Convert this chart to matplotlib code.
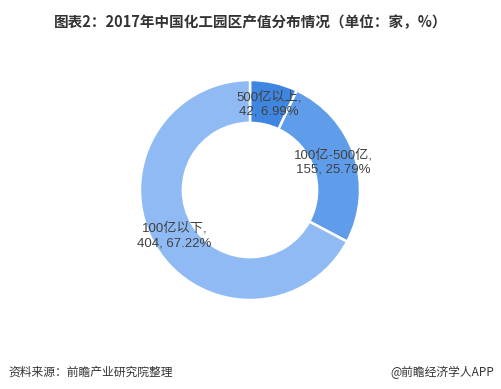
import numpy as np
import matplotlib
matplotlib.use("Agg")
import matplotlib.pyplot as plt

categories = ["500亿以上", "100亿-500亿", "100亿以下"]
counts = [42, 155, 404]
percents = [6.99, 25.79, 67.22]
colors = ["#3F86E0", "#5F9DEA", "#8FBAF3"]

title = "图表2：2017年中国化工园区产值分布情况（单位：家，%）"
source = "资料来源：前瞻产业研究院整理"
credit = "@前瞻经济学人APP"

FONT = ["Liberation Sans", "Noto Sans CJK SC", "DejaVu Sans"]
CJK = ["Noto Sans CJK SC", "DejaVu Sans"]

W, H = 502, 389
fig = plt.figure(figsize=(W / 100, H / 100), dpi=100)
fig.patch.set_facecolor("white")

cx, cy, R = 250, 190, 110
ax = fig.add_axes([(cx - R) / W, (H - cy - R) / H, 2 * R / W, 2 * R / H])
wedges, _ = ax.pie(counts, colors=colors, startangle=90, counterclock=False,
                   radius=1.0, wedgeprops=dict(width=0.39, edgecolor="white", linewidth=1.8))
ax.set_xlim(-1, 1)
ax.set_ylim(-1, 1)
ax.set_aspect("auto")
ax.axis("off")

for w, cat, n, p in zip(wedges, categories, counts, percents):
    mid = np.deg2rad((w.theta1 + w.theta2) / 2)
    r = 0.8
    ax.text(r * np.cos(mid), r * np.sin(mid), f"{cat},\n{n}, {p:.2f}%",
            ha="center", va="center", fontsize=9.5, color="#404040",
            family=FONT, linespacing=1.3)

fig.text(0.5, 1 - 22 / H, title, ha="center", va="center", fontsize=10.5,
         fontweight="bold", color="#333333", family=CJK)
fig.text(8 / W, 1 - 372 / H, source, ha="left", va="center", fontsize=8.5,
         style="italic", color="#333333", family=CJK)
fig.text(494 / W, 1 - 372 / H, credit, ha="right", va="center", fontsize=8.5,
         color="#333333", family=CJK)

fig.savefig("out.png", dpi=100)
